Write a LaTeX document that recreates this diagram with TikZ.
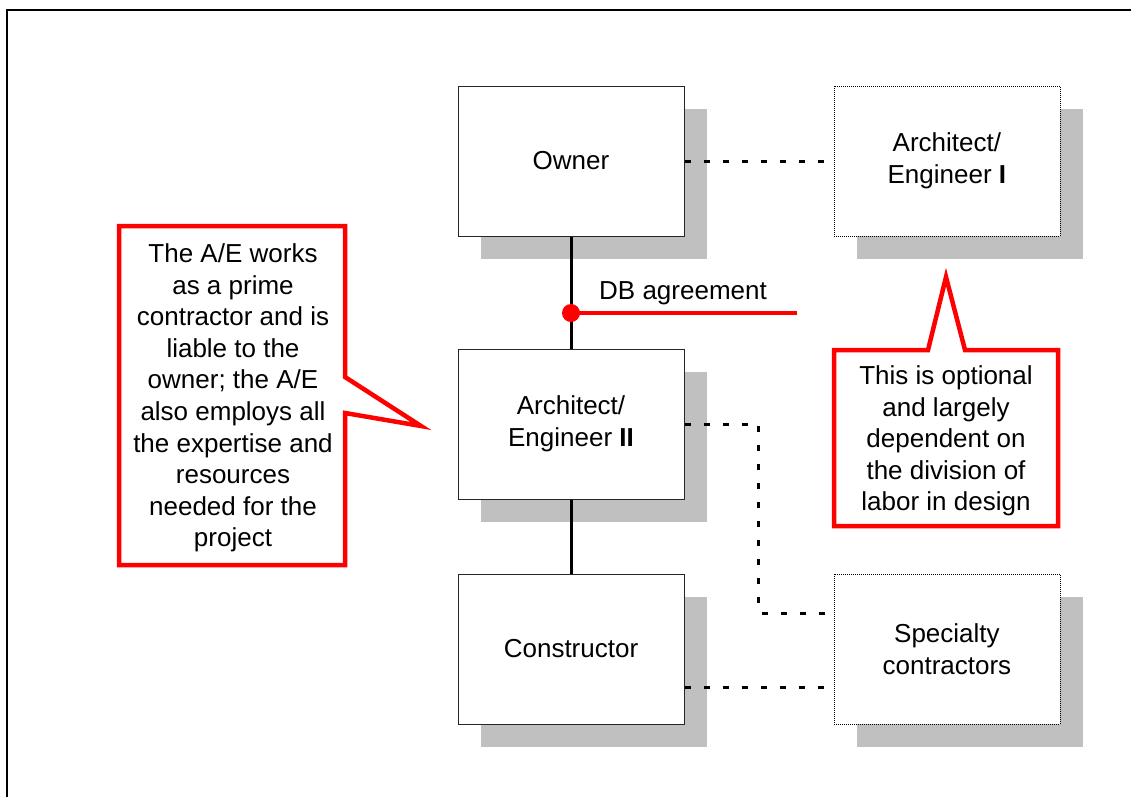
\documentclass[tikz,border=0pt]{standalone}
\usepackage{fontspec}
\setmainfont{Liberation Sans}
\usepackage{tikz}
\usetikzlibrary{positioning,shadows}
\definecolor{shadowgray}{HTML}{C0C0C0}

\begin{document}
\begin{tikzpicture}[
  x=1pt, y=-1pt,
  every node/.style={font=\fontsize{26}{31.6}\selectfont, align=center},
  party/.style={draw=black!85, line width=1pt, fill=white, inner sep=0pt,
    minimum width=226pt, minimum height=150pt,
    drop shadow={shadow xshift=23pt, shadow yshift=-23pt, fill=shadowgray, opacity=1}},
  optparty/.style={party, draw=black, line width=0.8pt, dash pattern=on 1pt off 1pt},
  link/.style={line width=3pt},
  loose/.style={line width=3pt, dash pattern=on 6pt off 13pt},
  callout/.style={draw=red, line width=4.5pt, fill=white}
]
\useasboundingbox (0,0) rectangle (1131,796);
\draw[line width=2pt] (7,10) rectangle (1150,820);

\node[party] (owner) at (571,161) {Owner};
\node[party, below=112pt of owner] (ae2) {Architect/\\Engineer \textbf{II}};
\node[party, below=74pt of ae2] (builder) {Constructor};
\node[optparty, right=149pt of owner] (ae1) {Architect/\\Engineer \textbf{I}};
\node[optparty, right=149pt of builder] (special) {Specialty\\contractors};

\draw[link] (owner) -- (ae2);
\draw[link] (ae2) -- (builder);
\draw[loose] (owner) -- (ae1);
\draw[loose] (ae2.east) -- ++(74,0) |- ([yshift=36pt]special.west);
\draw[loose] ([yshift=-38pt]builder.east) -- ([yshift=-38pt]special.west);

\coordinate (db) at (571,313);
\coordinate (dbend) at (797,313);
\draw[red, line width=4.5pt] (db) -- (dbend);
\fill[red] (db) circle (9pt);
\node[anchor=base west, inner sep=0pt] (dblabel) at (599,299) {DB agreement};

\draw[callout] (119,226) -- (345,226) -- (345,377) -- (421,426) -- (345,413)
  -- (345,565) -- (119,565) -- cycle;
\node (noteae) at (233,398) {The A/E works\\as a prime\\contractor and is\\liable to the\\owner; the A/E\\also employs all\\the expertise and\\resources\\needed for the\\project};

\draw[callout] (834,350) -- (928,350) -- (946,277) -- (965,350) -- (1058,350)
  -- (1058,526) -- (834,526) -- cycle;
\node (noteopt) at (946,441) {This is optional\\and largely\\dependent on\\the division of\\labor in design};
\end{tikzpicture}
\end{document}
